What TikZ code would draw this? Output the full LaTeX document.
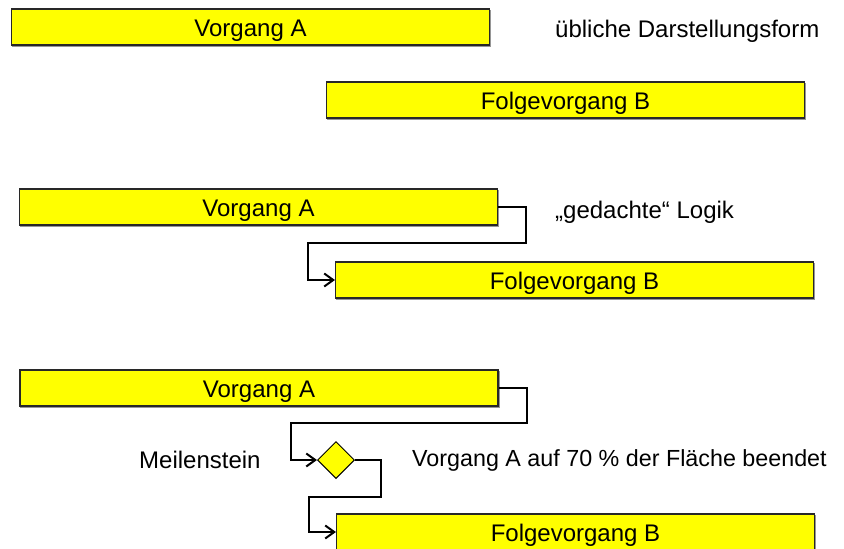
\documentclass[tikz,border=0pt]{standalone}
\usepackage{fontspec}
\setmainfont{Liberation Sans}
\usetikzlibrary{arrows.meta,shapes.geometric}
\definecolor{bary}{RGB}{255,255,0}
\definecolor{barline}{RGB}{40,40,40}
\definecolor{barshadow}{RGB}{150,150,150}
\begin{document}
\begin{tikzpicture}[x=1pt,y=-1pt,
  font=\fontsize{24}{28}\selectfont,
  bar/.style={draw=barline,line width=1.1pt,fill=bary,minimum width=478pt,minimum height=36pt,inner sep=0pt,
    text height=18pt,text depth=0pt,
    preaction={draw=barshadow,fill=barshadow,transform canvas={xshift=1pt,yshift=-1.2pt}}},
  ms/.style={diamond,draw=black,line width=1pt,fill=bary,minimum width=37pt,minimum height=37pt,inner sep=0pt,aspect=1},
  conn/.style={line width=2pt,line join=miter,-{Straight Barb[length=9pt,width=13pt,line width=2pt]}},
  lbl/.style={anchor=west,inner sep=0pt}]
\useasboundingbox (0,0) rectangle (844,549);
% row 1
\node[bar] (a1) at (250.5,27) {Vorgang A};
\node[bar] (b1) at (565.5,100) {Folgevorgang B};
\node[lbl] (t1) at (555,31) {übliche Darstellungsform};
% row 2
\node[bar] (a2) at (258.5,207) {Vorgang A};
\node[bar] (b2) at (574.5,280) {Folgevorgang B};
\node[lbl] (t2) at (555,212) {„gedachte“ Logik};
\draw[conn] (a2.east) -- (526,207) -- (526,243) -- (308,243) -- (308,280) -- (b2.west);
% row 3
\node[bar] (a3) at (259,388) {Vorgang A};
\node[bar] (b3) at (575.5,532) {Folgevorgang B};
\node[ms] (m3) at (336,460) {};
\node[lbl] (t3) at (139,460) {Meilenstein};
\node[lbl,font=\fontsize{23.3}{28}\selectfont] (t4) at (412,460) {Vorgang A auf 70 \% der Fläche beendet};
\draw[conn] (a3.east) -- (527,388) -- (527,423) -- (291,423) -- (291,460) -- (m3.west);
\draw[conn] (m3.east) -- (381,460) -- (381,497) -- (309,497) -- (309,532) -- (b3.west);
\end{tikzpicture}
\end{document}
